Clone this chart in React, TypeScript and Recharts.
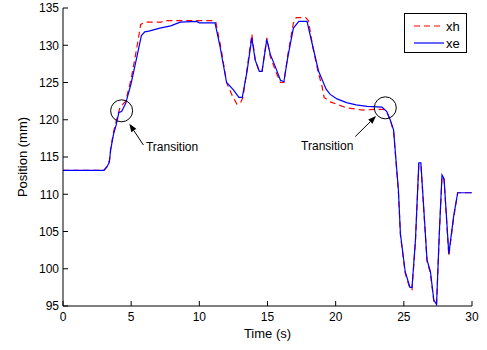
import React from "react";
import {
  LineChart,
  Line,
  XAxis,
  YAxis,
  ReferenceDot,
  ReferenceLine,
} from "recharts";

// time (s) and position (mm)
const xeTime = [
  0, 3.0, 3.2, 3.4, 3.5, 3.7, 3.9, 4.1, 4.3, 4.6, 5.0, 5.45, 5.75, 6.0, 6.3, 6.7, 7.1, 7.9, 8.6, 9.8,
  10.0, 11.15, 11.5, 12.0, 12.5, 12.9, 13.15, 13.5, 13.85, 14.1, 14.4, 14.6, 14.95, 15.2, 15.6, 15.95,
  16.2, 16.5, 16.9, 17.3, 17.9, 18.3, 18.75, 19.3, 19.6, 20.1, 20.8, 21.5, 22.3, 23.4, 23.75, 24.0,
  24.25, 24.45, 24.6, 24.75, 25.1, 25.45, 25.6, 25.85, 26.1, 26.25, 26.5, 26.7, 26.95, 27.2, 27.4,
  27.6, 27.8, 27.95, 28.3, 28.65, 28.95, 30,
];
const xeValue = [
  113.2, 113.2, 113.6, 114.3, 116.0, 118.0, 119.3, 121.0, 121.1, 122.2, 124.9, 128.7, 131.3, 131.8,
  131.9, 132.1, 132.3, 132.6, 133.1, 133.2, 133.0, 133.0, 130.0, 125.0, 124.0, 123.0, 123.0, 126.5,
  131.0, 128.0, 126.5, 126.5, 130.8, 128.8, 127.0, 125.3, 125.1, 128.5, 132.3, 133.2, 133.2, 130.0,
  126.5, 124.1, 123.4, 122.8, 122.3, 122.0, 121.8, 121.7, 121.1, 120.0, 118.6, 114.0, 110.6, 104.7,
  99.6, 97.5, 97.5, 103.8, 114.2, 114.2, 107.0, 101.2, 99.6, 95.8, 95.2, 104.7, 112.6, 112.1, 102.0,
  107.0, 110.2, 110.2,
];

const xhTime = [
  0, 3.0, 3.2, 3.4, 3.5, 3.7, 3.9, 4.2, 4.35, 4.6, 5.0, 5.4, 5.7, 6.0, 7.2, 7.4, 10.9, 11.2, 11.6,
  12.0, 12.4, 12.75, 13.0, 13.2, 13.5, 13.85, 14.1, 14.4, 14.6, 14.95, 15.2, 15.6, 15.95, 16.2, 16.5,
  16.9, 17.1, 17.8, 18.0, 18.3, 18.7, 19.0, 19.15, 19.6, 20.2, 20.8, 22.0, 23.0, 23.5, 23.75, 24.0,
  24.25, 24.45, 24.6, 24.75, 25.1, 25.45, 25.6, 25.85, 26.1, 26.25, 26.5, 26.7, 26.95, 27.2, 27.4,
  27.6, 27.8, 27.95, 28.3, 28.65, 28.95, 30,
];
const xhValue = [
  113.2, 113.2, 113.7, 114.5, 116.2, 118.3, 119.8, 121.8, 122.0, 122.5, 125.5, 129.5, 132.8, 133.1,
  133.1, 133.3, 133.3, 133.2, 129.5, 125.0, 123.3, 122.1, 122.2, 123.0, 126.8, 131.5, 128.0, 126.5,
  126.5, 131.0, 128.5, 126.5, 125.0, 125.0, 128.8, 133.0, 133.7, 133.7, 133.3, 130.0, 126.5, 124.5,
  123.0, 122.4, 122.0, 121.6, 121.3, 121.4, 121.4, 121.0, 120.0, 118.4, 113.8, 110.4, 104.5, 99.4,
  97.3, 97.2, 103.6, 114.0, 114.0, 106.8, 101.0, 99.4, 95.6, 95.2, 104.5, 112.4, 112.0, 101.7,
  106.8, 110.2, 110.2,
];

const xTicks = [0, 5, 10, 15, 20, 25, 30];
const yTicks = [95, 100, 105, 110, 115, 120, 125, 130, 135];

const xeData = xeTime.map((t, i) => ({ t, v: xeValue[i] }));
const xhData = xhTime.map((t, i) => ({ t, v: xhValue[i] }));

const FONT = "'Liberation Sans', Arial, Helvetica, sans-serif";
const tickStyle = { fontSize: 12, fill: "#000", fontFamily: FONT };

// line with a filled arrowhead at the second point
function Arrow(props: any) {
  const { x1, y1, x2, y2 } = props;
  if (![x1, y1, x2, y2].every((n) => Number.isFinite(n))) return <g />;
  const a = Math.atan2(y2 - y1, x2 - x1);
  const len = 8;
  const hw = 3;
  const bx = x2 - len * Math.cos(a);
  const by = y2 - len * Math.sin(a);
  const px = -Math.sin(a) * hw;
  const py = Math.cos(a) * hw;
  return (
    <g>
      <line x1={x1} y1={y1} x2={bx} y2={by} stroke="#000" strokeWidth={1} />
      <polygon points={`${x2},${y2} ${bx + px},${by + py} ${bx - px},${by - py}`} fill="#000" />
    </g>
  );
}

function LegendBox() {
  return (
    <div
      style={{
        position: "absolute",
        left: 404,
        top: 13,
        border: "1px solid #000",
        background: "#fff",
        width: 63,
        height: 40,
        boxSizing: "border-box",
      }}
    >
      <svg width={61} height={38} style={{ position: "absolute", left: 0, top: 0 }}>
        <line x1={9} y1={12} x2={39} y2={12} stroke="#ff0000" strokeWidth={1.2} strokeDasharray="6 4" />
        <line x1={9} y1={29} x2={39} y2={29} stroke="#0000ff" strokeWidth={1.2} />
        <text x={41} y={16.5} fontSize={13} fontFamily={FONT} fill="#000">xh</text>
        <text x={41} y={33.5} fontSize={13} fontFamily={FONT} fill="#000">xe</text>
      </svg>
    </div>
  );
}

export default function App() {
  return (
    <div style={{ position: "absolute", left: 0, top: 0, width: 487, height: 350, background: "#fff" }}>
      <LineChart width={487} height={350} margin={{ top: 8, right: 15, left: 10, bottom: 10 }}>
        <XAxis
          xAxisId="b"
          dataKey="t"
          type="number"
          domain={[0, 30]}
          ticks={xTicks}
          allowDataOverflow
          stroke="#000"
          tick={tickStyle}
          tickSize={-5}
          tickMargin={11}
          height={34}
          label={{ value: "Time (s)", position: "insideBottom", offset: 2, style: { ...tickStyle, fontSize: 13 } }}
        />
        <XAxis
          xAxisId="t"
          orientation="top"
          dataKey="t"
          type="number"
          domain={[0, 30]}
          ticks={xTicks}
          allowDataOverflow
          stroke="#000"
          tickFormatter={() => ""}
          tickSize={-5}
          height={0}
        />
        <YAxis
          yAxisId="l"
          type="number"
          domain={[95, 135]}
          ticks={yTicks}
          allowDataOverflow
          stroke="#000"
          tick={tickStyle}
          tickSize={-5}
          tickMargin={9}
          width={53}
          label={{
            value: "Position (mm)",
            angle: -90,
            position: "insideLeft",
            offset: 12,
            style: { ...tickStyle, fontSize: 13, textAnchor: "middle" },
          }}
        />
        <YAxis
          yAxisId="r"
          orientation="right"
          type="number"
          domain={[95, 135]}
          ticks={yTicks}
          allowDataOverflow
          stroke="#000"
          tickFormatter={() => ""}
          tickSize={-5}
          width={0}
        />
        <Line
          xAxisId="b"
          yAxisId="l"
          data={xhData}
          dataKey="v"
          type="linear"
          stroke="#ff0000"
          strokeWidth={1.2}
          strokeDasharray="6 4"
          dot={false}
          isAnimationActive={false}
        />
        <Line
          xAxisId="b"
          yAxisId="l"
          data={xeData}
          dataKey="v"
          type="linear"
          stroke="#0000ff"
          strokeWidth={1.2}
          dot={false}
          isAnimationActive={false}
        />
        <ReferenceDot xAxisId="b" yAxisId="l" x={4.3} y={121.2} r={11} fill="none" stroke="#000" strokeWidth={1} />
        <ReferenceDot xAxisId="b" yAxisId="l" x={23.64} y={121.6} r={11} fill="none" stroke="#000" strokeWidth={1} />
        <ReferenceLine
          xAxisId="b"
          yAxisId="l"
          segment={[{ x: 5.9, y: 116.6 }, { x: 4.87, y: 119.45 }]}
          shape={Arrow}
        />
        <ReferenceLine
          xAxisId="b"
          yAxisId="l"
          segment={[{ x: 21.44, y: 117.75 }, { x: 22.96, y: 120.5 }]}
          shape={Arrow}
        />
        <ReferenceDot
          xAxisId="b"
          yAxisId="l"
          x={8.0}
          y={116.4}
          r={0}
          fill="none"
          stroke="none"
          label={{ value: "Transition", position: "center", style: { ...tickStyle } }}
        />
        <ReferenceDot
          xAxisId="b"
          yAxisId="l"
          x={19.38}
          y={116.5}
          r={0}
          fill="none"
          stroke="none"
          label={{ value: "Transition", position: "center", style: { ...tickStyle } }}
        />
      </LineChart>
      <LegendBox />
    </div>
  );
}
